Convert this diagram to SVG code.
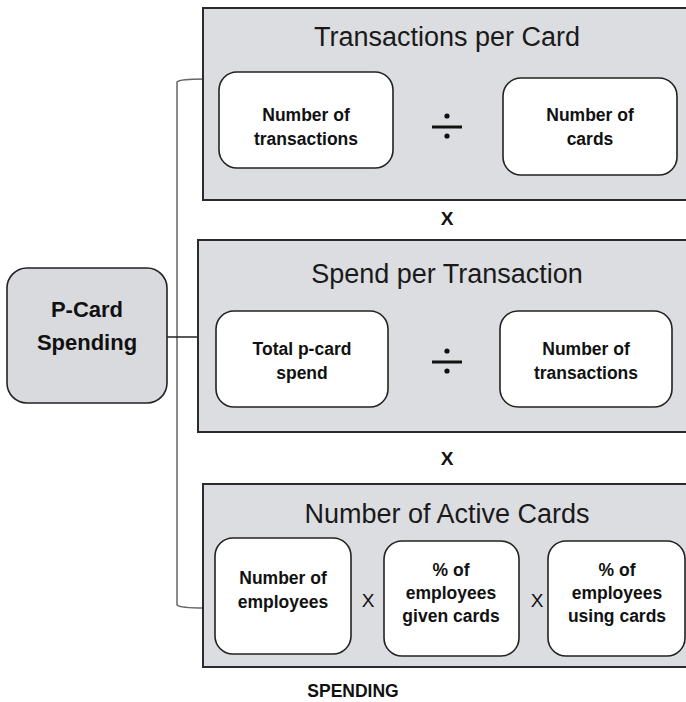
<svg xmlns="http://www.w3.org/2000/svg" width="686" height="702" viewBox="0 0 686 702">
<style>
.panel{fill:#dcdde0;stroke:#2b2b2b;stroke-width:2}
.box{fill:#ffffff;stroke:#222;stroke-width:1.6}
.root{fill:#d9dadd;stroke:#222;stroke-width:1.6}
.title{font-family:"Liberation Sans",Arial,sans-serif;font-size:27px;fill:#1a1a1a;text-anchor:middle}
.lbl{font-family:"Liberation Sans",Arial,sans-serif;font-size:17.5px;font-weight:bold;fill:#111;text-anchor:middle}
.op{font-family:"Liberation Sans",Arial,sans-serif;font-size:19px;font-weight:bold;fill:#111;text-anchor:middle}
.opx{font-family:"Liberation Sans",Arial,sans-serif;font-size:19px;fill:#111;text-anchor:middle}
.rootlbl{font-family:"Liberation Sans",Arial,sans-serif;font-size:22px;font-weight:bold;fill:#111;text-anchor:middle}
.conn{fill:none;stroke:#666;stroke-width:1.5}
</style>
<rect width="686" height="702" fill="#ffffff"/>
<g id="connectors">
<path class="conn" d="M204,79 Q180,79 177,82 L177,605 Q180,608 204,608"/>
<line x1="167" y1="337" x2="198" y2="337" stroke="#222" stroke-width="1.5"/>
</g>
<g id="transactions-per-card">
<rect class="panel" x="203" y="8" width="490" height="192"/>
<text class="title" x="447" y="46">Transactions per Card</text>
<g id="num-transactions-1">
<rect class="box" x="219" y="72" width="174" height="96" rx="18"/>
<text class="lbl" x="306" y="121">Number of</text>
<text class="lbl" x="306" y="145">transactions</text>
</g>
<g id="div-1">
<rect x="432" y="125.5" width="30" height="3" fill="#111"/>
<circle cx="447" cy="116" r="2.6" fill="#111"/>
<circle cx="447" cy="136" r="2.6" fill="#111"/>
</g>
<g id="num-cards">
<rect class="box" x="503" y="78" width="174" height="97" rx="18"/>
<text class="lbl" x="590" y="121">Number of</text>
<text class="lbl" x="590" y="145">cards</text>
</g>
</g>
<text class="op" x="447" y="225">X</text>
<g id="spend-per-transaction">
<rect class="panel" x="198" y="240" width="495" height="192"/>
<text class="title" x="447" y="283">Spend per Transaction</text>
<g id="total-spend">
<rect class="box" x="216" y="311" width="172" height="96" rx="18"/>
<text class="lbl" x="302" y="355">Total p-card</text>
<text class="lbl" x="302" y="379">spend</text>
</g>
<g id="div-2">
<rect x="432" y="360.5" width="30" height="3" fill="#111"/>
<circle cx="447" cy="351" r="2.6" fill="#111"/>
<circle cx="447" cy="371" r="2.6" fill="#111"/>
</g>
<g id="num-transactions-2">
<rect class="box" x="500" y="311" width="172" height="96" rx="18"/>
<text class="lbl" x="586" y="355">Number of</text>
<text class="lbl" x="586" y="379">transactions</text>
</g>
</g>
<text class="op" x="447" y="465">X</text>
<g id="number-active-cards">
<rect class="panel" x="203" y="484" width="490" height="183"/>
<text class="title" x="447" y="523">Number of Active Cards</text>
<g id="num-employees">
<rect class="box" x="215" y="538" width="136" height="116" rx="18"/>
<text class="lbl" x="283" y="584">Number of</text>
<text class="lbl" x="283" y="608">employees</text>
</g>
<text class="opx" x="368" y="607">X</text>
<g id="pct-given">
<rect class="box" x="384" y="541" width="135" height="115" rx="18"/>
<text class="lbl" x="451" y="576">% of</text>
<text class="lbl" x="451" y="599">employees</text>
<text class="lbl" x="451" y="622">given cards</text>
</g>
<text class="opx" x="537" y="607">X</text>
<g id="pct-using">
<rect class="box" x="548" y="541" width="137" height="115" rx="18"/>
<text class="lbl" x="617" y="576">% of</text>
<text class="lbl" x="617" y="599">employees</text>
<text class="lbl" x="617" y="622">using cards</text>
</g>
</g>
<g id="p-card-spending">
<rect class="root" x="7" y="268" width="160" height="135" rx="20"/>
<text class="rootlbl" x="87" y="317">P-Card</text>
<text class="rootlbl" x="87" y="350">Spending</text>
</g>
<text class="lbl" x="353" y="697" font-size="16.5">SPENDING</text>
</svg>
